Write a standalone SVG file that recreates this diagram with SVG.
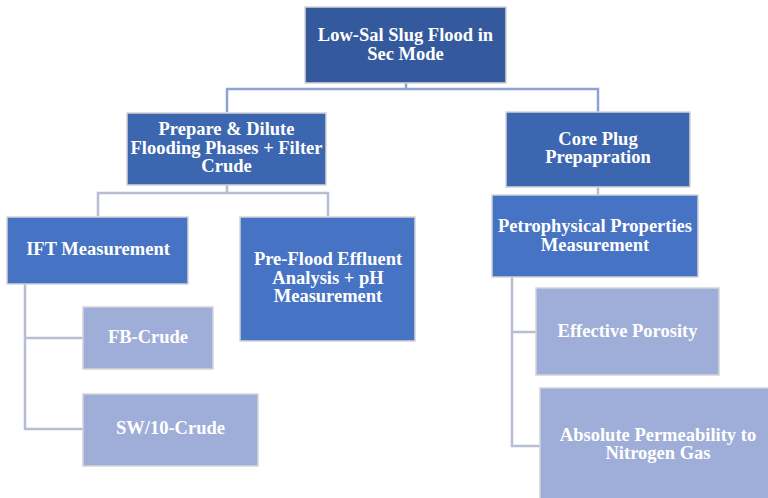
<svg xmlns="http://www.w3.org/2000/svg" width="768" height="498" viewBox="0 0 768 498">
<style>
.n rect{stroke:#D4D4D8;stroke-width:1.5}
.l1{fill:#35599D}
.l2{fill:#3D66B0}
.l3{fill:#4673C3}
.l4{fill:#9FAED8}
text{font-family:"Liberation Serif","Times New Roman",serif;font-weight:bold;fill:#FFFFFF;text-anchor:middle;font-size:18.5px}
.c1{fill:none;stroke:#8FA3D2;stroke-width:2.5}
.c2{fill:none;stroke:#B7BDD3;stroke-width:2.5}
</style>
<rect width="768" height="498" fill="#FFFFFF"/>
<g id="connectors">
<path class="c1" d="M406,83 V89 M227,112 V89 H598 V112"/>
<path class="c2" d="M598,187 V195"/>
<path class="c2" d="M227,185 V193 M98,216 V193 H328 V216"/>
<path class="c2" d="M25,284 V429 H83 M25,338 H83"/>
<path class="c2" d="M512,277 V446 H540 M512,332 H536"/>
</g>
<g id="n-root" class="n"><rect class="l1" x="305" y="7" width="201" height="76"/><text x="405.5" y="41">Low-Sal Slug Flood in</text><text x="405.5" y="60">Sec Mode</text></g>
<g id="n-prepare" class="n"><rect class="l2" x="127" y="113" width="199" height="72"/><text x="226.5" y="135">Prepare &amp; Dilute</text><text x="226.5" y="154">Flooding Phases + Filter</text><text x="226.5" y="172">Crude</text></g>
<g id="n-core" class="n"><rect class="l2" x="506" y="112" width="184" height="75"/><text x="598" y="145">Core Plug</text><text x="598" y="163">Prepapration</text></g>
<g id="n-ift" class="n"><rect class="l3" x="7" y="217" width="181" height="67"/><text x="98" y="255">IFT Measurement</text></g>
<g id="n-preflood" class="n"><rect class="l3" x="240" y="217" width="175" height="124"/><text x="328" y="265">Pre-Flood Effluent</text><text x="328" y="284">Analysis + pH</text><text x="328" y="302">Measurement</text></g>
<g id="n-petro" class="n"><rect class="l3" x="492" y="195" width="206" height="82"/><text x="595" y="232">Petrophysical Properties</text><text x="595" y="251">Measurement</text></g>
<g id="n-fb" class="n"><rect class="l4" x="83" y="307" width="130" height="62"/><text x="148" y="343">FB-Crude</text></g>
<g id="n-sw" class="n"><rect class="l4" x="83" y="394" width="175" height="72"/><text x="170.5" y="434">SW/10-Crude</text></g>
<g id="n-poro" class="n"><rect class="l4" x="536" y="288" width="183" height="87"/><text x="627.5" y="337">Effective Porosity</text></g>
<g id="n-perm" class="n"><rect class="l4" x="540" y="388" width="240" height="120"/><text x="658" y="441">Absolute Permeability to</text><text x="658" y="459">Nitrogen Gas</text></g>
</svg>
